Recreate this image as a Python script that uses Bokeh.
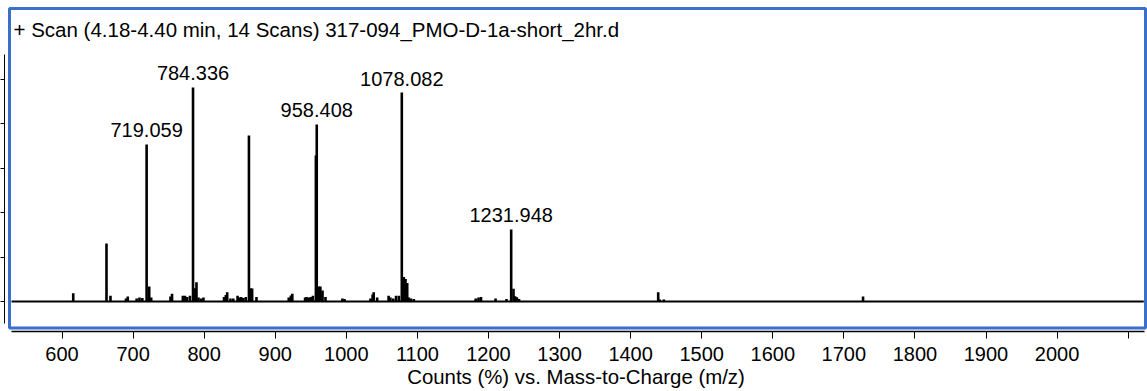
from bokeh.plotting import figure
from bokeh.models import ColumnDataSource, FixedTicker, BoxAnnotation, Label
from bokeh.core.properties import value
from bokeh.embed import file_html
from bokeh.resources import INLINE

# ---------------- data ----------------
peak_mz = [615.8, 662.6, 668.2, 690.0, 692.5, 705.0, 709.0, 713.0,
           719.059, 722.7, 725.5, 752.6, 754.8, 770.0, 773.0, 776.0, 780.0,
           784.336, 786.8, 789.2, 792.0, 795.5, 799.0,
           828.0, 830.5, 832.4, 837.0, 841.0, 847.0, 849.0, 852.0, 855.0, 858.5,
           863.0, 865.5, 867.5, 873.6,
           919.0, 922.0, 924.0, 942.0, 944.0, 947.0, 950.0, 953.0,
           957.2, 958.408, 961.3, 963.5, 966.5, 970.7, 994.5, 997.5,
           1034.0, 1037.0, 1038.5, 1043.4, 1059.5, 1062.0, 1066.0, 1070.0, 1074.0,
           1078.082, 1080.9, 1083.3, 1085.7, 1088.0, 1091.0, 1095.0,
           1182.0, 1186.0, 1189.5, 1210.0, 1225.4,
           1231.948, 1235.2, 1237.5, 1240.0, 1243.0,
           1438.8, 1441.0, 1446.7, 1727.0]
peak_counts = [3.7, 26.1, 2.6, 1.3, 2.2, 1.3, 1.8, 1.6,
               70.6, 6.7, 1.8, 2.2, 3.5, 2.6, 2.6, 2.0, 2.6,
               96.2, 6.0, 8.7, 1.8, 1.3, 1.8,
               2.0, 2.9, 4.2, 1.3, 1.3, 2.6, 1.8, 2.0, 1.6, 2.0,
               74.6, 6.0, 5.8, 2.0,
               1.8, 2.7, 3.5, 1.8, 2.0, 1.8, 2.0, 2.6,
               65.6, 79.6, 6.7, 6.7, 4.9, 2.0, 1.3, 1.1,
               1.3, 3.1, 4.2, 1.8, 2.6, 1.8, 1.3, 2.6, 2.6,
               93.9, 11.0, 10.1, 8.3, 1.8, 1.3, 1.1,
               1.3, 1.8, 2.0, 1.3, 1.1,
               32.4, 5.7, 2.4, 1.9, 1.1,
               4.2, 0.9, 0.9, 2.2]
label_mz = [719.059, 784.336, 958.408, 1078.082, 1231.948]
scan_range = [529.0, 2122.0]
baseline_counts = [0.0, 0.0]
x_ticks = [600, 700, 800, 900, 1000, 1100, 1200, 1300, 1400, 1500,
           1600, 1700, 1800, 1900, 2000, 2100]
y_ticks = [0, 20, 40, 60, 80, 100]
title_text = "+ Scan (4.18-4.40 min, 14 Scans) 317-094_PMO-D-1a-short_2hr.d"
x_title = "Counts (%) vs. Mass-to-Charge (m/z)"

# ---------------- layout ----------------
FRAME_W, FRAME_H = 1143, 331
FRAME_LEFT = 4
X0, X1 = 519.1, 2127.2
Y0, Y1 = -13.48, 135.28
FONT = "Liberation Sans"
BLUE = "#3a70cc"


def data_x(px):
    return X0 + (px - FRAME_LEFT) * (X1 - X0) / FRAME_W


def data_y(py):
    return Y1 - py * (Y1 - Y0) / FRAME_H


p = figure(frame_width=FRAME_W, frame_height=FRAME_H,
           x_range=(X0, X1), y_range=(Y0, Y1),
           output_backend="svg", toolbar_location=None,
           min_border_left=0, min_border_right=0,
           min_border_top=0, min_border_bottom=0)
p.background_fill_color = "white"
p.border_fill_color = "white"
p.outline_line_color = None
p.grid.visible = False

# spectrum
p.line(x=scan_range, y=baseline_counts, line_color="black", line_width=2)
p.segment(x0=peak_mz, y0=[0.0] * len(peak_mz), x1=peak_mz, y1=peak_counts,
          line_color="black", line_width=2.6)

height_of = dict(zip(peak_mz, peak_counts))
lab_src = ColumnDataSource(dict(
    x=label_mz,
    y=[height_of[m] for m in label_mz],
    text=[f"{m:.3f}" for m in label_mz],
))
p.text(x="x", y="y", text="text", source=lab_src,
       text_align="center", text_baseline="middle", y_offset=-14,
       text_font=value(FONT), text_font_size="20px", text_color="black")

# x axis
xa = p.xaxis[0]
xa.ticker = FixedTicker(ticks=x_ticks)
xa.major_label_overrides = {2100: ""}
xa.bounds = (529, 2123)
xa.axis_line_color = "black"
xa.axis_line_width = 1.5
xa.major_tick_line_color = "black"
xa.major_tick_out = 7
xa.major_tick_in = 0
xa.minor_tick_line_color = None
xa.major_label_standoff = 8
xa.major_label_text_font = FONT
xa.major_label_text_font_size = "20px"
xa.major_label_text_color = "black"
xa.axis_label = x_title
xa.axis_label_standoff = 2
xa.axis_label_text_font = FONT
xa.axis_label_text_font_size = "20.4px"
xa.axis_label_text_font_style = "normal"
xa.axis_label_text_color = "black"

# y axis (labels cut off in the reference)
ya = p.yaxis[0]
ya.ticker = FixedTicker(ticks=y_ticks)
ya.major_label_overrides = {t: "" for t in y_ticks}
ya.bounds = (-10, 111)
ya.axis_line_color = "black"
ya.axis_line_width = 1
ya.major_tick_line_color = "black"
ya.major_tick_out = 4
ya.major_tick_in = 0
ya.minor_tick_line_color = None
ya.major_label_standoff = 0
ya.major_label_text_font_size = "1px"

# blue selection frame
p.add_layout(BoxAnnotation(left=data_x(9), right=data_x(1145),
                           top=data_y(8), bottom=data_y(327.5),
                           fill_alpha=0, fill_color=None,
                           line_color=BLUE, line_alpha=1.0, line_width=3))

# title inside frame
p.add_layout(Label(x=data_x(13), y=data_y(29), text=title_text,
                   text_align="left", text_baseline="middle",
                   text_font=FONT, text_font_size="20.5px", text_color="black"))

open("out.html", "w").write(file_html(p, INLINE))
